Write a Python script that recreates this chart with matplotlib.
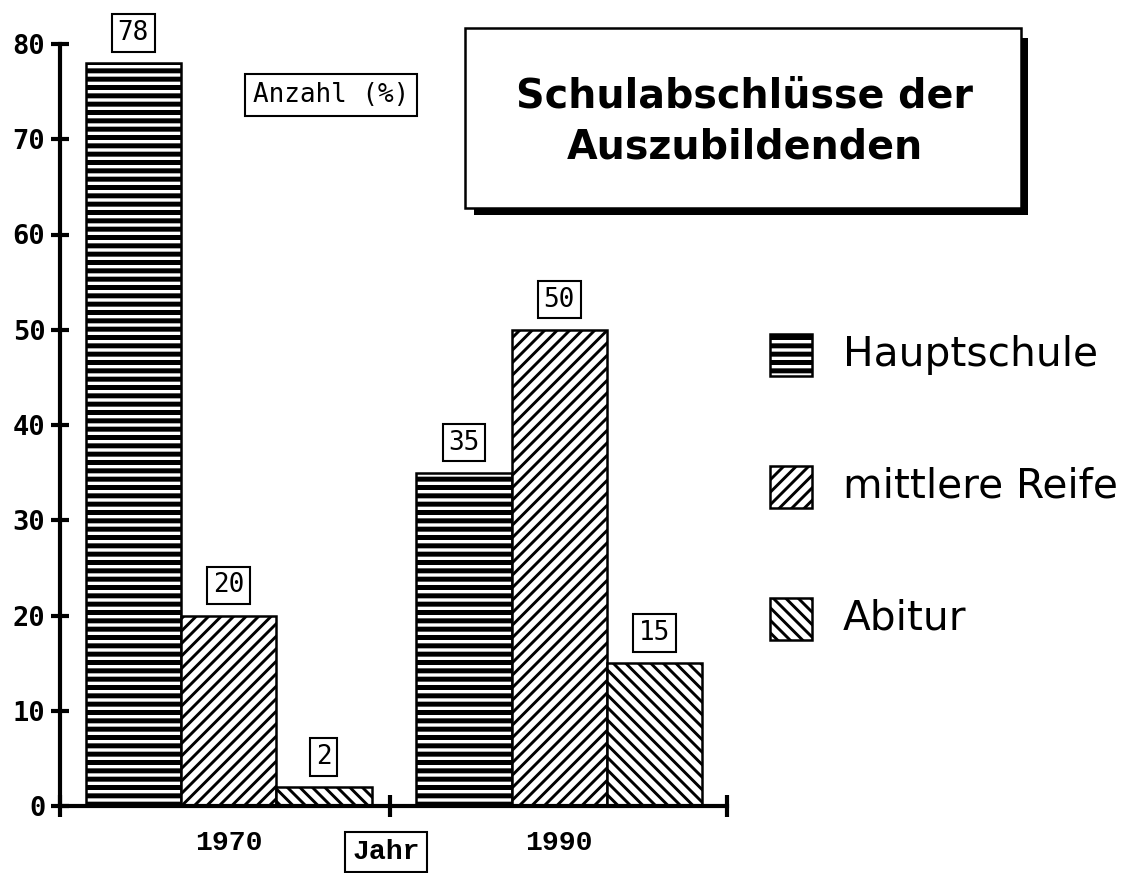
import numpy as np
import matplotlib
matplotlib.use("Agg")
import matplotlib.pyplot as plt
from matplotlib.patches import Rectangle

# data
years = ["1970", "1990"]
categories = ["Hauptschule", "mittlere Reife", "Abitur"]
hauptschule = [78, 35]
mittlere_reife = [20, 50]
abitur = [2, 15]
yticks = [0, 10, 20, 30, 40, 50, 60, 70, 80]

W, H, DPI = 1147, 873, 150


def pt(px):
    return px * 72 / DPI


def fxy(x, y):
    return x / W, 1 - y / H


plt.rcParams["hatch.linewidth"] = 1.4
fig = plt.figure(figsize=(W / DPI, H / DPI), dpi=DPI)
ax = fig.add_axes([60 / W, (H - 806) / H, 667 / W, 762 / H])

group_x = np.array([1.77, 5.24])
offsets = [-1.0, 0.0, 1.0]
hatches = ["---", "////", "\\\\\\\\"]
hatch_lw = [2.4, 1.4, 1.4]
series = [hauptschule, mittlere_reife, abitur]

for vals, off, hat, hlw in zip(series, offsets, hatches, hatch_lw):
    bars = ax.bar(group_x + off, vals, width=1.0, facecolor="white",
                  edgecolor="black", linewidth=1.2, hatch=hat, zorder=2)
    for b in bars:
        if hasattr(b, "set_hatch_linewidth"):
            b.set_hatch_linewidth(hlw)
    for x, v in zip(group_x + off, vals):
        ax.annotate(str(v), (x, v), xytext=(0, pt(30)), textcoords="offset points",
                    ha="center", va="center", family="DejaVu Sans Mono",
                    fontsize=12.5,
                    bbox=dict(boxstyle="square,pad=0.22", fc="white",
                              ec="black", lw=1.0))

ax.set_xlim(0, 7)
ax.set_ylim(0, 80)
for s in ["top", "right"]:
    ax.spines[s].set_visible(False)
for s in ["left", "bottom"]:
    ax.spines[s].set_linewidth(2.0)

ax.set_yticks(yticks)
ax.set_yticklabels([str(t) for t in yticks], family="DejaVu Sans Mono",
                   fontweight="bold", fontsize=13)
ax.tick_params(axis="y", direction="inout", length=pt(19), width=2.0, pad=pt(5))

ax.set_xticks([0, 3.46, 7])
ax.set_xticklabels([])
ax.tick_params(axis="x", which="major", direction="inout", length=pt(23), width=2.0)
ax.set_xticks(group_x, minor=True)
ax.set_xticklabels(years, minor=True, family="Liberation Mono",
                   fontweight="bold", fontsize=13.5)
ax.tick_params(axis="x", which="minor", length=0, pad=pt(24))

# "Anzahl (%)" and "Jahr" labels
fig.text(*fxy(331, 95), "Anzahl (%)", ha="center", va="center",
         family="DejaVu Sans Mono", fontsize=12.5,
         bbox=dict(boxstyle="square,pad=0.3", fc="white", ec="black", lw=1.0))
fig.text(*fxy(386, 852), "Jahr", ha="center", va="center",
         family="Liberation Mono", fontweight="bold", fontsize=13.5,
         bbox=dict(boxstyle="square,pad=0.25", fc="white", ec="black", lw=1.0))

# title box with shadow
x0, y0 = fxy(474, 215)
x1, y1 = fxy(1028, 38)
fig.add_artist(Rectangle((x0, y0), x1 - x0, y1 - y0, transform=fig.transFigure,
                         facecolor="black", edgecolor="none"))
x0, y0 = fxy(465, 208)
x1, y1 = fxy(1021, 28)
fig.add_artist(Rectangle((x0, y0), x1 - x0, y1 - y0, transform=fig.transFigure,
                         facecolor="white", edgecolor="black", linewidth=1.2))
fig.text(*fxy(745, 122), "Schulabschlüsse der\nAuszubildenden", ha="center",
         va="center", family="DejaVu Sans", fontweight="bold", fontsize=19,
         linespacing=1.35)

# legend
legend_y = [355, 487, 619]
for cat, hat, hlw, ly in zip(categories, hatches, hatch_lw, legend_y):
    lx0, ly0 = fxy(770, ly + 21)
    lx1, ly1 = fxy(812, ly - 21)
    r = Rectangle((lx0, ly0), lx1 - lx0, ly1 - ly0, transform=fig.transFigure,
                  facecolor="white", edgecolor="black", linewidth=1.2, hatch=hat)
    if hasattr(r, "set_hatch_linewidth"):
        r.set_hatch_linewidth(hlw)
    fig.add_artist(r)
    fig.text(*fxy(843, ly), cat, ha="left", va="center", family="DejaVu Sans",
             fontsize=19.5)

fig.savefig("out.png", dpi=DPI)
